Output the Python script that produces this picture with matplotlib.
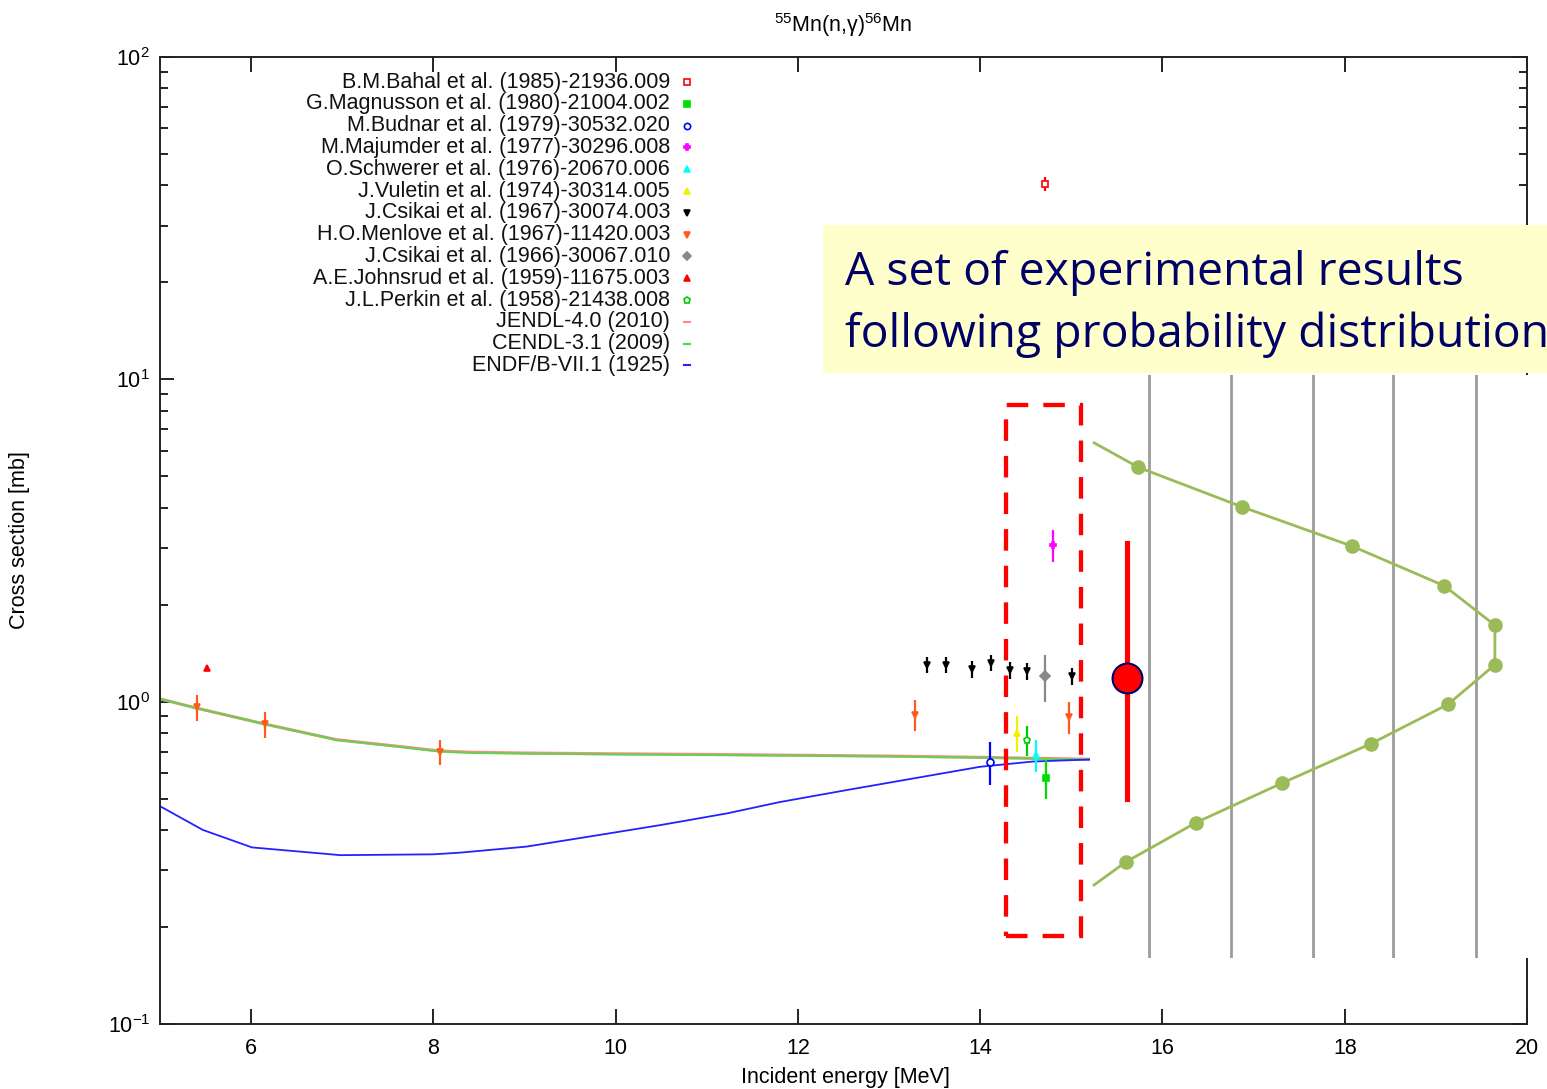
import matplotlib
matplotlib.use("Agg")
import matplotlib.pyplot as plt
from matplotlib.patches import Rectangle
from matplotlib.ticker import LogLocator, LogFormatterMathtext, NullFormatter

plt.rcParams['font.family'] = ['Liberation Sans', 'DejaVu Sans']
plt.rcParams['mathtext.fontset'] = 'custom'
plt.rcParams['mathtext.rm'] = 'Liberation Sans'
plt.rcParams['mathtext.it'] = 'Liberation Sans:italic'
plt.rcParams['mathtext.default'] = 'regular'

# ---- evaluated data (cut where the overlay sits) ----
cendl_e = [5.0, 5.4, 6.15, 6.94, 7.67, 8.07, 8.4, 9.0, 10.0, 11.0, 12.0, 13.0, 14.0, 15.3]
cendl_y = [1.02, 0.955, 0.852, 0.760, 0.722, 0.700, 0.694, 0.690, 0.686, 0.683, 0.680, 0.676, 0.670, 0.660]
jendl_e = cendl_e
jendl_y = [1.02, 0.955, 0.852, 0.762, 0.724, 0.703, 0.697, 0.693, 0.689, 0.686, 0.682, 0.678, 0.672, 0.662]
endf_e = [5.0, 5.47, 6.01, 6.98, 8.0, 8.29, 9.02, 9.75, 10.49, 11.22, 11.8, 12.54, 13.27, 14.0, 14.58, 15.3]
endf_y = [0.474, 0.400, 0.353, 0.334, 0.336, 0.340, 0.355, 0.383, 0.414, 0.450, 0.488, 0.532, 0.578, 0.628, 0.652, 0.663]

# ---- experimental data: label, color, marker, filled, E, sigma, error ----
exfor = [
    ("B.M.Bahal et al. (1985)-21936.009", "#FF0000", "s", False, [14.71], [40.4], [2.0]),
    ("G.Magnusson et al. (1980)-21004.002", "#00DD00", "s", True, [14.72], [0.578], [0.08]),
    ("M.Budnar et al. (1979)-30532.020", "#0000FF", "o", False, [14.11], [0.652], [0.10]),
    ("M.Majumder et al. (1977)-30296.008", "#FF00FF", "P", True, [14.80], [3.06], [0.35]),
    ("O.Schwerer et al. (1976)-20670.006", "#00FFFF", "^", True, [14.61], [0.683], [0.08]),
    ("J.Vuletin et al. (1974)-30314.005", "#F2F200", "^", True, [14.40], [0.80], [0.10]),
    ("J.Csikai et al. (1967)-30074.003", "#000000", "v", True,
     [13.42, 13.62, 13.91, 14.12, 14.33, 14.51, 15.01],
     [1.30, 1.30, 1.26, 1.32, 1.25, 1.245, 1.20],
     [0.075, 0.075, 0.075, 0.075, 0.075, 0.075, 0.075]),
    ("H.O.Menlove et al. (1967)-11420.003", "#FF5A1E", "v", True,
     [5.41, 6.15, 8.07, 13.28, 14.97],
     [0.96, 0.852, 0.698, 0.909, 0.895],
     [0.09, 0.08, 0.06, 0.10, 0.10]),
    ("J.Csikai et al. (1966)-30067.010", "#888888", "D", True, [14.71], [1.20], [0.20]),
    ("A.E.Johnsrud et al. (1959)-11675.003", "#FF0000", "^", True, [5.52], [1.27], [0.0]),
    ("J.L.Perkin et al. (1958)-21438.008", "#00CC00", "p", False, [14.51], [0.76], [0.08]),
]
curves = [
    ("JENDL-4.0 (2010)", "#FF8A8A", jendl_e, jendl_y),
    ("CENDL-3.1 (2009)", "#44E044", cendl_e, cendl_y),
    ("ENDF/B-VII.1 (1925)", "#2222FF", endf_e, endf_y),
]

# ---- annotation data ----
window_e = (14.28, 15.11)
window_y = (0.1875, 8.3)
mean_e, mean_y, mean_lo, mean_hi = 15.61, 1.18, 0.50, 3.10
dist_level = [-0.62, 0, 1, 2, 3, 4, 5, 6, 7, 8, 9, 10, 10.58]
dist_density = [0.009, 0.106, 0.332, 0.574, 0.775, 0.886, 0.886, 0.784, 0.615, 0.420, 0.232, 0.078, 0.009]
dist_grid = [0.128, 0.308, 0.489, 0.662, 0.845]

fig = plt.figure(figsize=(15.47, 10.89), dpi=100)
ax = fig.add_axes([0.1034, 0.0597, 0.8837, 0.888])

ax.plot(jendl_e, jendl_y, color=curves[0][1], lw=2.2, zorder=2)
ax.plot(cendl_e, cendl_y, color=curves[1][1], lw=1.6, alpha=0.8, zorder=2)
ax.plot(endf_e, endf_y, color=curves[2][1], lw=1.3, zorder=2)

for label, col, mk, filled, e, y, err in exfor:
    ax.errorbar(e, y, yerr=err, fmt=mk, color=col, ms=5,
                mfc=col if filled else 'white', mec=col, mew=1.2,
                elinewidth=1.6, capsize=0, zorder=3)

ax.set_yscale('log')
ax.set_xlim(5, 20)
ax.set_ylim(0.1, 100)
ax.set_xticks([6, 8, 10, 12, 14, 16, 18, 20])
ax.yaxis.set_major_locator(LogLocator(base=10))
ax.yaxis.set_major_formatter(LogFormatterMathtext())
ax.yaxis.set_minor_locator(LogLocator(base=10, subs=range(2, 10)))
ax.yaxis.set_minor_formatter(NullFormatter())
ax.tick_params(which='both', direction='in', top=True, right=True, labelsize=15.5, color='#222222')
ax.tick_params(axis='x', which='major', length=11, width=1.4, pad=10)
ax.tick_params(axis='y', which='major', length=10, width=1.4, pad=7)
ax.tick_params(axis='y', which='minor', length=6, width=1.4)
for s in ax.spines.values():
    s.set_linewidth(1.4)
    s.set_color('#222222')

# gnuplot style key: right aligned text, sample to the right
key_x, key_y0, key_dy = 0.373, 0.974, 0.02254
for i, (label, col, mk, filled, e, y, err) in enumerate(exfor):
    yy = key_y0 - i * key_dy
    ax.text(key_x, yy, label, transform=ax.transAxes, ha='right', va='center', fontsize=15.5, color='#111111')
    ax.plot([key_x + 0.0125], [yy], mk, color=col, ms=4.5, mfc=col if filled else 'white',
            mec=col, mew=1.2, transform=ax.transAxes, clip_on=False)
for j, (label, col, e, y) in enumerate(curves):
    yy = key_y0 - (len(exfor) + j) * key_dy
    ax.text(key_x, yy, label, transform=ax.transAxes, ha='right', va='center', fontsize=15.5, color='#111111')
    ax.plot([key_x + 0.0105, key_x + 0.0145], [yy, yy], color=col, lw=1.5, transform=ax.transAxes, clip_on=False)

# dashed window around 14 MeV
ax.add_patch(Rectangle((window_e[0], window_y[0]), window_e[1] - window_e[0], window_y[1] - window_y[0],
                       fill=False, ec='#FF0000', lw=3.1, ls=(0, (5, 3.5)), zorder=5))

fig.text(0.5452, 1 - 25 / 1089, r'$^{55}$Mn(n,$\gamma$)$^{56}$Mn', ha='center', va='center', fontsize=15.5)
fig.text(0.5462, 1 - 1077 / 1089, 'Incident energy [MeV]', ha='center', va='center', fontsize=15.5)
fig.text(20 / 1547, 1 - 540 / 1089, 'Cross section [mb]', ha='center', va='center', rotation=90, fontsize=15.5)

# overlay: distribution sketch drawn sideways
ax_in = fig.add_axes([0.7046, 0.1203, 0.2954, 0.5354], zorder=0.5)
ax_in.set_facecolor('white')
ax_in.set_xlim(0, 1)
ax_in.set_ylim(12.43, -2.34)
for s in ax_in.spines.values():
    s.set_visible(False)
ax_in.set_xticks([])
ax_in.set_yticks([])
for g in dist_grid:
    ax_in.axvline(g, color='#9C9C9C', lw=2.0, zorder=1)
ax_in.plot(dist_density, dist_level, color='#9BBB59', lw=2.0, zorder=2)
ax_in.plot(dist_density[1:-1], dist_level[1:-1], 'o', color='#9BBB59', ms=9.5, zorder=3)

# measured value with its uncertainty, placed in main data coordinates
ax_in.plot([mean_e, mean_e], [mean_lo, mean_hi], color='#FF0000', lw=3.7,
           transform=ax.transData, clip_on=False, zorder=5)
ax_in.plot([mean_e], [mean_y], 'o', ms=21.5, mfc='#FF0000', mec='#000066', mew=1.5,
           transform=ax.transData, clip_on=False, zorder=6)

# yellow call-out
fig.patches.append(Rectangle((823 / 1547, 1 - 373 / 1089), 1 - 823 / 1547, 148 / 1089,
                             transform=fig.transFigure, fc='#FFFFCC', ec='none', zorder=2))
fig.text(845 / 1547, 1 - 285 / 1089, 'A set of experimental results', family=['Open Sans', 'DejaVu Sans'],
         fontsize=33.4, color='#000066', ha='left', va='baseline', zorder=3)
fig.text(845 / 1547, 1 - 347 / 1089, 'following probability distribution', family=['Open Sans', 'DejaVu Sans'],
         fontsize=33.4, color='#000066', ha='left', va='baseline', zorder=3)

fig.savefig('out.png', dpi=100)
